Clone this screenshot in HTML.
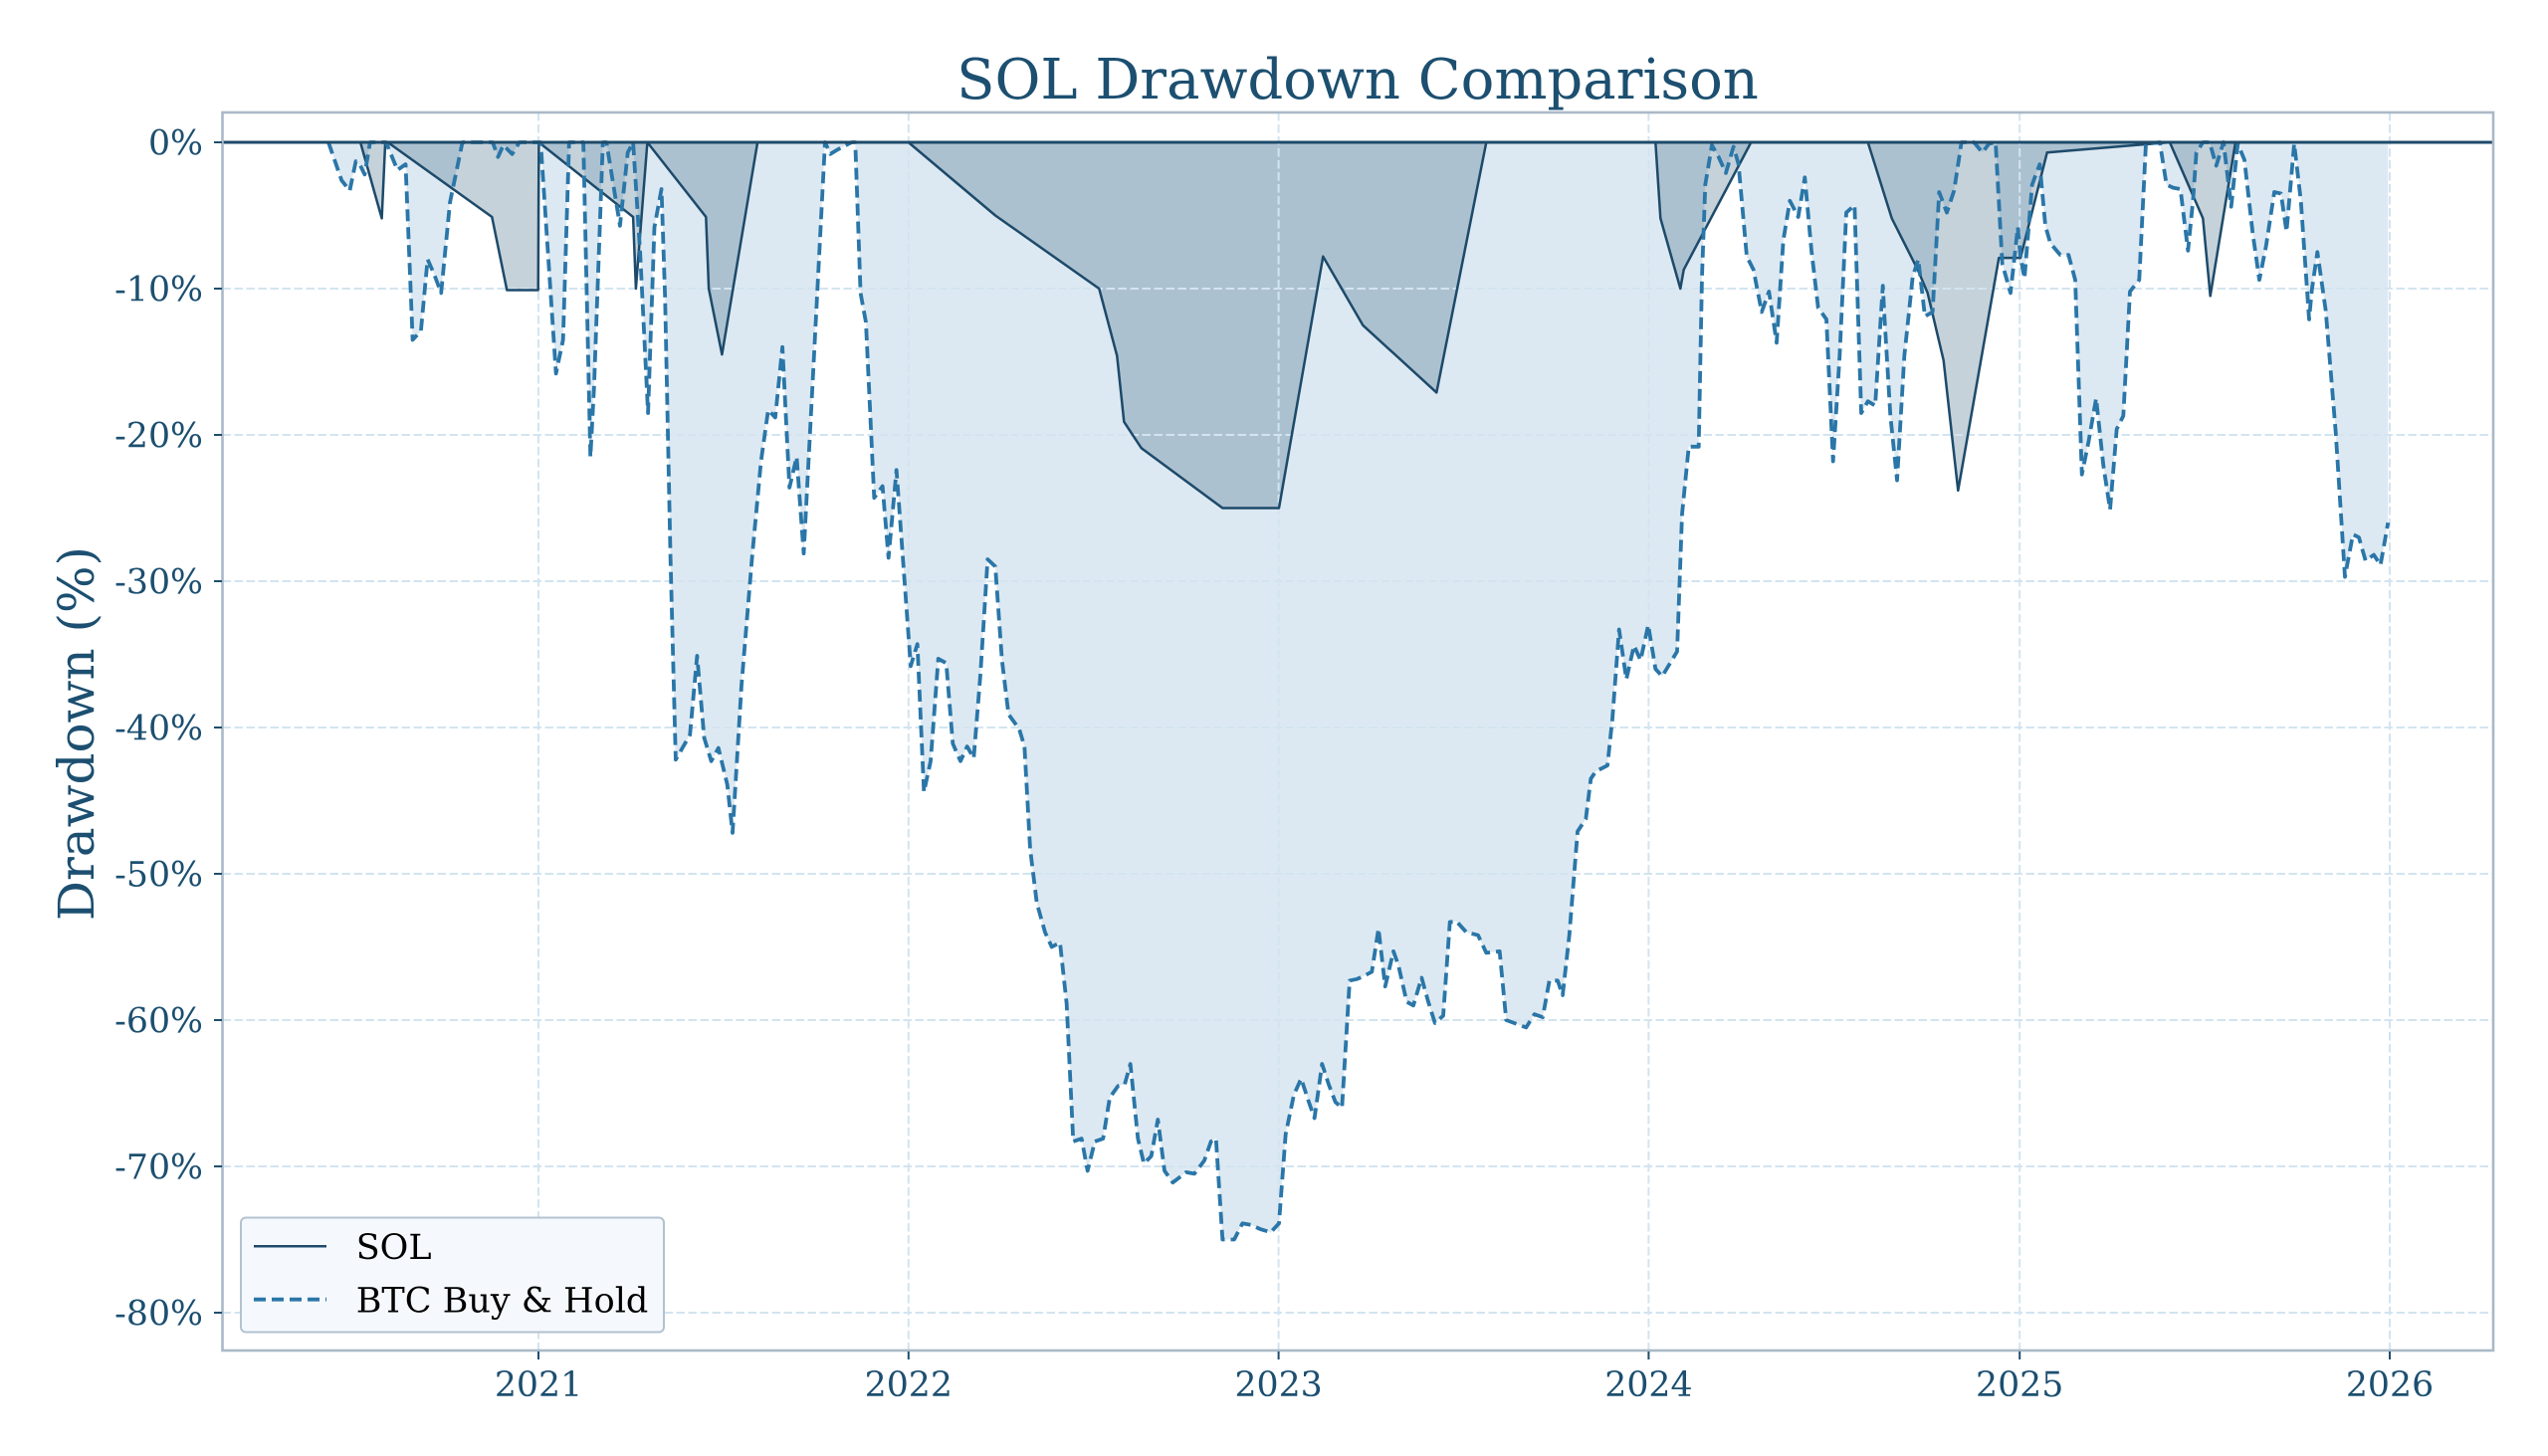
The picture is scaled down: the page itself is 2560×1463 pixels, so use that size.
<!DOCTYPE html>
<html>
<head>
<meta charset="utf-8">
<style>
html,body{margin:0;padding:0;background:#ffffff;}
svg{display:block;}
text{font-family:"DejaVu Serif","Liberation Serif",serif;}
</style>
</head>
<body>
<svg width="2560" height="1463" viewBox="0 0 2560 1463" xmlns="http://www.w3.org/2000/svg">
<rect x="0" y="0" width="2560" height="1463" fill="#ffffff"/>
<defs><clipPath id="ax"><rect x="223.5" y="113" width="2281.5" height="1244"/></clipPath></defs>

<g clip-path="url(#ax)">
<!-- BTC fill -->
<polygon fill="#dde9f2" points="330,143 343.2,181.2 351.4,191.5 357.5,162.1 362.1,166.5 366.4,175.3 371.8,143 387.9,143 399.3,170.9 407.5,165.1 414.6,341.5 422.9,332.6 429.6,260.6 436.1,275.3 443.2,294.4 452.1,203.3 464.6,143 495,143 500.4,157.7 505.7,145.9 514.6,154.8 521.8,143 543.2,143 558.6,375.3 565.7,341.5 571.8,143 586.1,143 593.2,459.1 596.8,390 605.7,143 609.3,143 622.9,226.8 630.7,153.3 636.1,143 643.2,254.7 651.1,415 657.5,228.3 664.6,190 668.2,298.8 673.6,559 678.9,763.3 693.2,738.4 700.4,659 707.5,741.3 714.6,764.8 721.8,751.6 730.7,788.3 736,836.8 745,688.4 755.7,559 764.6,463.5 771.8,412 778.9,419.4 786.1,348.8 793.2,489.9 800.4,459.1 807.5,556.1 816.4,385.6 828.9,143 834.3,154.8 841.4,150.4 855.7,143 859.3,143 864.6,294.4 870,323.8 878.3,500.2 886.7,488.5 892.7,560.5 900.7,472.3 915,669.3 921.7,647.2 928.3,795.7 935,764.8 942.7,661.9 950.7,666.3 957.3,747.2 965,764.8 971.7,750.1 978.3,761.9 985,678.1 992.3,562 1000,569.3 1006.7,663.4 1013.3,717.8 1024,732.5 1029.3,750.1 1035,853 1041.7,907.4 1050,936.8 1056.7,951.5 1065,947.1 1071.7,1008.8 1078.3,1147 1086.7,1144.1 1092.7,1176.4 1100,1147 1108.3,1144.1 1115,1102.9 1123.3,1091.2 1130,1089.7 1135.7,1069.1 1143.3,1144.1 1149.3,1169.1 1156.7,1161.7 1163.3,1125 1170,1176.4 1178.3,1188.2 1191.7,1177.9 1200,1179.4 1210,1166.1 1216.7,1147 1221.7,1144.1 1228.3,1245.5 1240,1245.5 1248.3,1229.3 1256.7,1230.8 1266.7,1235.2 1276.7,1238.2 1285,1229.3 1291.7,1139.7 1300,1100 1307.3,1083.8 1315,1107.3 1320.7,1123.5 1328.3,1069.1 1335,1089.7 1341.7,1107.3 1348.3,1113.2 1356,985.3 1363.3,983.8 1370,980.9 1378.3,976.5 1385,933.1 1391.7,991.2 1400,955.9 1405,969.9 1413.3,1006.6 1420,1010.3 1428.3,982.4 1435,1006.6 1441.7,1027.9 1450,1020.6 1456.7,926.5 1463.3,925.8 1473.3,936.8 1485,939.7 1493.3,957.4 1506.7,955.9 1513.3,1025 1533.3,1032.4 1541.7,1019.1 1550,1022.1 1556.7,985.3 1565,985.3 1570,1000 1576.7,939.7 1585,835.4 1593.3,822.9 1598.3,782.5 1603.3,775.1 1615,769.2 1620,722.2 1626.7,632.5 1634,682.5 1641.7,648.7 1648.3,663.4 1656,628.1 1663.3,672.2 1670,679.6 1685,654.6 1690,516.4 1696.7,448.8 1706.7,448.8 1710,278.2 1713.3,185.6 1720,145.9 1726.7,157.7 1734,173.9 1741.7,147.4 1746.7,165.1 1755,257.7 1761.7,270.9 1770,313.5 1777.3,292.9 1785,344.4 1791.7,241.5 1798.3,201.8 1806.7,218 1813.3,178.3 1820,251.8 1826.7,309.1 1835,320.9 1841.7,463.5 1848.3,357.6 1855,213.6 1863.3,206.2 1870,415 1876.7,403.2 1884,407.6 1891.7,287.1 1893.3,317.9 1899.3,417.9 1906,482.6 1913.3,357.6 1921.7,278.2 1927.3,260.6 1934,317.9 1941.7,313.5 1948.3,193 1956,213.6 1963.3,191.5 1970.7,143 1983.3,143 1991.7,153.3 1998.3,144.5 2005,143 2011.7,265 2020,294.4 2027.3,228.3 2030,257.7 2034,279.7 2041.7,185.6 2049.3,165.1 2055,226.8 2060,244.4 2070,256.2 2078.3,256.2 2085,281.2 2091.7,476.7 2098.3,444.4 2106,400.3 2113.3,467.9 2120,512 2126.7,431.1 2133.3,417.9 2140,292.9 2149.3,281.2 2156,144.5 2170,143 2176.7,185.6 2183.3,188.6 2190.7,190 2198.3,251.8 2203.3,201.8 2206.7,153.3 2213.3,143 2220,143 2226.7,166.5 2234,143 2241.7,207.7 2248.3,144.5 2255,160.6 2263.3,234.1 2270,281.2 2276.7,247.4 2285,193 2291.7,194.5 2297.3,232.7 2305,144.5 2311.7,201.8 2320,320.9 2322.7,291.5 2328.3,253.3 2336.7,312.1 2346.7,434.1 2356,579.6 2364,537 2370,539.9 2376.7,563.4 2385,557.5 2391.7,567.8 2399.3,525.2 2399.3,143"/>
<!-- SOL fill -->
<polygon fill="#1b4a6b" fill-opacity="0.25" points="330,143 362.1,143 383.6,219.4 387.1,143 389.6,143 494.3,218 509.3,291.5 540.7,291.5 541.4,143 636.1,218 638.9,290 650.4,143 709.3,218 712.1,290 725.4,356.2 761.1,143 912.7,143 1000,216.5 1104.3,290 1122.3,357.6 1129.3,423.8 1146.7,450.2 1228.3,510.5 1285,510.5 1329.3,257.7 1369.3,326.8 1443.3,394.4 1493.3,143 1663.3,143 1668.3,219.4 1688.3,290 1691.7,270.9 1759.3,143 1876.7,143 1900.7,219.4 1926.7,270.9 1936.7,294.4 1952.7,362 1967.3,492.9 2008.3,259.1 2030,259.1 2056.7,153.3 2180,143 2213.3,219.4 2220.7,297.4 2246,143 2399,143"/>

<!-- grid -->
<g stroke="#d3e4f0" stroke-width="2" stroke-dasharray="8.5 3.5" fill="none">
<line x1="223.5" y1="143" x2="2505" y2="143"/>
<line x1="223.5" y1="290" x2="2505" y2="290"/>
<line x1="223.5" y1="437" x2="2505" y2="437"/>
<line x1="223.5" y1="584" x2="2505" y2="584"/>
<line x1="223.5" y1="731" x2="2505" y2="731"/>
<line x1="223.5" y1="878" x2="2505" y2="878"/>
<line x1="223.5" y1="1025" x2="2505" y2="1025"/>
<line x1="223.5" y1="1172" x2="2505" y2="1172"/>
<line x1="223.5" y1="1319" x2="2505" y2="1319"/>
<line x1="541" y1="113" x2="541" y2="1357"/>
<line x1="912.8" y1="113" x2="912.8" y2="1357"/>
<line x1="1284.6" y1="113" x2="1284.6" y2="1357"/>
<line x1="1656.4" y1="113" x2="1656.4" y2="1357"/>
<line x1="2029.2" y1="113" x2="2029.2" y2="1357"/>
<line x1="2401" y1="113" x2="2401" y2="1357"/>
</g>

<!-- SOL line -->
<polyline fill="none" stroke="#1d4a6a" stroke-width="2.5" stroke-linejoin="round" points="330,143 362.1,143 383.6,219.4 387.1,143 389.6,143 494.3,218 509.3,291.5 540.7,291.5 541.4,143 636.1,218 638.9,290 650.4,143 709.3,218 712.1,290 725.4,356.2 761.1,143 912.7,143 1000,216.5 1104.3,290 1122.3,357.6 1129.3,423.8 1146.7,450.2 1228.3,510.5 1285,510.5 1329.3,257.7 1369.3,326.8 1443.3,394.4 1493.3,143 1663.3,143 1668.3,219.4 1688.3,290 1691.7,270.9 1759.3,143 1876.7,143 1900.7,219.4 1926.7,270.9 1936.7,294.4 1952.7,362 1967.3,492.9 2008.3,259.1 2030,259.1 2056.7,153.3 2180,143 2213.3,219.4 2220.7,297.4 2246,143 2399,143"/>

<!-- BTC line -->
<polyline fill="none" stroke="#2a76a8" stroke-width="3.8" stroke-dasharray="12 6" stroke-linejoin="round" points="330,143 343.2,181.2 351.4,191.5 357.5,162.1 362.1,166.5 366.4,175.3 371.8,143 387.9,143 399.3,170.9 407.5,165.1 414.6,341.5 422.9,332.6 429.6,260.6 436.1,275.3 443.2,294.4 452.1,203.3 464.6,143 495,143 500.4,157.7 505.7,145.9 514.6,154.8 521.8,143 543.2,143 558.6,375.3 565.7,341.5 571.8,143 586.1,143 593.2,459.1 596.8,390 605.7,143 609.3,143 622.9,226.8 630.7,153.3 636.1,143 643.2,254.7 651.1,415 657.5,228.3 664.6,190 668.2,298.8 673.6,559 678.9,763.3 693.2,738.4 700.4,659 707.5,741.3 714.6,764.8 721.8,751.6 730.7,788.3 736,836.8 745,688.4 755.7,559 764.6,463.5 771.8,412 778.9,419.4 786.1,348.8 793.2,489.9 800.4,459.1 807.5,556.1 816.4,385.6 828.9,143 834.3,154.8 841.4,150.4 855.7,143 859.3,143 864.6,294.4 870,323.8 878.3,500.2 886.7,488.5 892.7,560.5 900.7,472.3 915,669.3 921.7,647.2 928.3,795.7 935,764.8 942.7,661.9 950.7,666.3 957.3,747.2 965,764.8 971.7,750.1 978.3,761.9 985,678.1 992.3,562 1000,569.3 1006.7,663.4 1013.3,717.8 1024,732.5 1029.3,750.1 1035,853 1041.7,907.4 1050,936.8 1056.7,951.5 1065,947.1 1071.7,1008.8 1078.3,1147 1086.7,1144.1 1092.7,1176.4 1100,1147 1108.3,1144.1 1115,1102.9 1123.3,1091.2 1130,1089.7 1135.7,1069.1 1143.3,1144.1 1149.3,1169.1 1156.7,1161.7 1163.3,1125 1170,1176.4 1178.3,1188.2 1191.7,1177.9 1200,1179.4 1210,1166.1 1216.7,1147 1221.7,1144.1 1228.3,1245.5 1240,1245.5 1248.3,1229.3 1256.7,1230.8 1266.7,1235.2 1276.7,1238.2 1285,1229.3 1291.7,1139.7 1300,1100 1307.3,1083.8 1315,1107.3 1320.7,1123.5 1328.3,1069.1 1335,1089.7 1341.7,1107.3 1348.3,1113.2 1356,985.3 1363.3,983.8 1370,980.9 1378.3,976.5 1385,933.1 1391.7,991.2 1400,955.9 1405,969.9 1413.3,1006.6 1420,1010.3 1428.3,982.4 1435,1006.6 1441.7,1027.9 1450,1020.6 1456.7,926.5 1463.3,925.8 1473.3,936.8 1485,939.7 1493.3,957.4 1506.7,955.9 1513.3,1025 1533.3,1032.4 1541.7,1019.1 1550,1022.1 1556.7,985.3 1565,985.3 1570,1000 1576.7,939.7 1585,835.4 1593.3,822.9 1598.3,782.5 1603.3,775.1 1615,769.2 1620,722.2 1626.7,632.5 1634,682.5 1641.7,648.7 1648.3,663.4 1656,628.1 1663.3,672.2 1670,679.6 1685,654.6 1690,516.4 1696.7,448.8 1706.7,448.8 1710,278.2 1713.3,185.6 1720,145.9 1726.7,157.7 1734,173.9 1741.7,147.4 1746.7,165.1 1755,257.7 1761.7,270.9 1770,313.5 1777.3,292.9 1785,344.4 1791.7,241.5 1798.3,201.8 1806.7,218 1813.3,178.3 1820,251.8 1826.7,309.1 1835,320.9 1841.7,463.5 1848.3,357.6 1855,213.6 1863.3,206.2 1870,415 1876.7,403.2 1884,407.6 1891.7,287.1 1893.3,317.9 1899.3,417.9 1906,482.6 1913.3,357.6 1921.7,278.2 1927.3,260.6 1934,317.9 1941.7,313.5 1948.3,193 1956,213.6 1963.3,191.5 1970.7,143 1983.3,143 1991.7,153.3 1998.3,144.5 2005,143 2011.7,265 2020,294.4 2027.3,228.3 2030,257.7 2034,279.7 2041.7,185.6 2049.3,165.1 2055,226.8 2060,244.4 2070,256.2 2078.3,256.2 2085,281.2 2091.7,476.7 2098.3,444.4 2106,400.3 2113.3,467.9 2120,512 2126.7,431.1 2133.3,417.9 2140,292.9 2149.3,281.2 2156,144.5 2170,143 2176.7,185.6 2183.3,188.6 2190.7,190 2198.3,251.8 2203.3,201.8 2206.7,153.3 2213.3,143 2220,143 2226.7,166.5 2234,143 2241.7,207.7 2248.3,144.5 2255,160.6 2263.3,234.1 2270,281.2 2276.7,247.4 2285,193 2291.7,194.5 2297.3,232.7 2305,144.5 2311.7,201.8 2320,320.9 2322.7,291.5 2328.3,253.3 2336.7,312.1 2346.7,434.1 2356,579.6 2364,537 2370,539.9 2376.7,563.4 2385,557.5 2391.7,567.8 2399.3,525.2"/>

<!-- zero line -->
<line x1="223.5" y1="143" x2="2505" y2="143" stroke="#1d4a6a" stroke-width="3"/>
</g>

<!-- spines -->
<rect x="223.5" y="113" width="2281.5" height="1244" fill="none" stroke="#aab9c7" stroke-width="2.6"/>

<!-- ticks -->
<g stroke="#1f4d6d" stroke-width="2">
<line x1="215" y1="143" x2="223" y2="143"/>
<line x1="215" y1="290" x2="223" y2="290"/>
<line x1="215" y1="437" x2="223" y2="437"/>
<line x1="215" y1="584" x2="223" y2="584"/>
<line x1="215" y1="731" x2="223" y2="731"/>
<line x1="215" y1="878" x2="223" y2="878"/>
<line x1="215" y1="1025" x2="223" y2="1025"/>
<line x1="215" y1="1172" x2="223" y2="1172"/>
<line x1="215" y1="1319" x2="223" y2="1319"/>
<line x1="541" y1="1358" x2="541" y2="1366"/>
<line x1="912.8" y1="1358" x2="912.8" y2="1366"/>
<line x1="1284.6" y1="1358" x2="1284.6" y2="1366"/>
<line x1="1656.4" y1="1358" x2="1656.4" y2="1366"/>
<line x1="2029.2" y1="1358" x2="2029.2" y2="1366"/>
<line x1="2401" y1="1358" x2="2401" y2="1366"/>
</g>

<!-- y tick labels -->
<g fill="#1c4f70" font-size="34.7" text-anchor="end">
<text x="204" y="155.6">0%</text>
<text x="204" y="302.6">-10%</text>
<text x="204" y="449.6">-20%</text>
<text x="204" y="596.6">-30%</text>
<text x="204" y="743.6">-40%</text>
<text x="204" y="890.6">-50%</text>
<text x="204" y="1037.6">-60%</text>
<text x="204" y="1184.6">-70%</text>
<text x="204" y="1331.6">-80%</text>
</g>

<!-- x tick labels -->
<g fill="#1c4f70" font-size="34.7" text-anchor="middle">
<text x="541" y="1403">2021</text>
<text x="912.8" y="1403">2022</text>
<text x="1284.6" y="1403">2023</text>
<text x="1656.4" y="1403">2024</text>
<text x="2029.2" y="1403">2025</text>
<text x="2401" y="1403">2026</text>
</g>

<!-- y label -->
<text transform="translate(94,737) rotate(-90)" fill="#1c4f70" font-size="50" text-anchor="middle">Drawdown (%)</text>

<!-- title -->
<text x="1364" y="99" fill="#1c4f70" font-size="56" text-anchor="middle">SOL Drawdown Comparison</text>

<!-- legend -->
<rect x="242" y="1223.5" width="425" height="115" rx="5" ry="5" fill="#f5f9fd" stroke="#b3c2cf" stroke-width="2"/>
<line x1="255" y1="1252.3" x2="328" y2="1252.3" stroke="#1d4a6a" stroke-width="2.5"/>
<line x1="255" y1="1305.7" x2="328" y2="1305.7" stroke="#2a76a8" stroke-width="3.8" stroke-dasharray="12 6"/>
<text x="357.7" y="1265" fill="#000000" font-size="35">SOL</text>
<text x="357.7" y="1318.3" fill="#000000" font-size="35">BTC Buy &amp; Hold</text>
</svg>
</body>
</html>
